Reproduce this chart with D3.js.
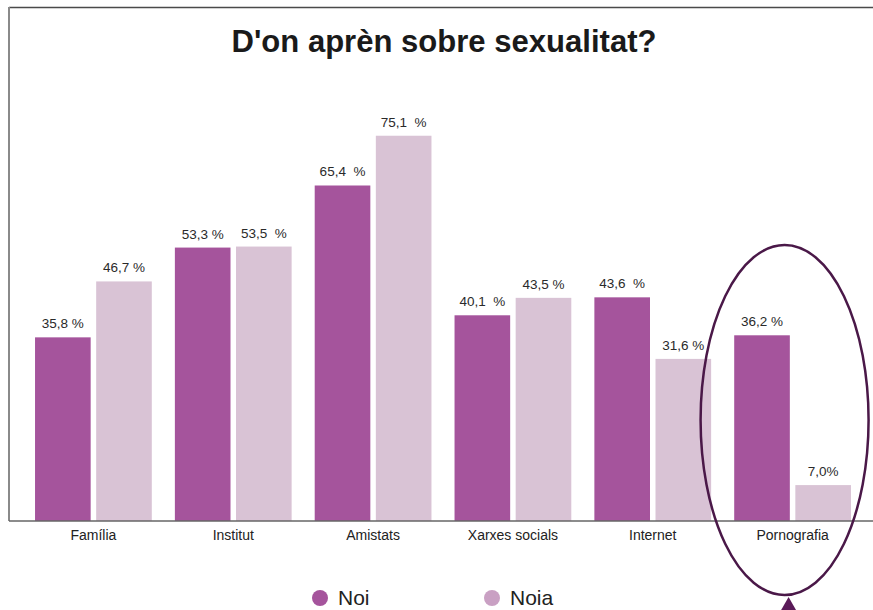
<!DOCTYPE html>
<html>
<head>
<meta charset="utf-8">
<script src="https://cdn.jsdelivr.net/npm/d3@7"></script>
<style>
  html, body { margin: 0; padding: 0; background: #fff; }
  svg { display: block; }
  text { font-family: "Liberation Sans", Arial, Helvetica, sans-serif; }
</style>
</head>
<body>
<svg id="chart" width="873" height="610"></svg>
<script>
// Sources where young people learn about sexuality, by sex (%)
const categories = ["Família", "Institut", "Amistats", "Xarxes socials", "Internet", "Pornografia"];
const series = ["Noi", "Noia"];
const noiValues  = [35.8, 53.3, 65.4, 40.1, 43.6, 36.2];
const noiaValues = [46.7, 53.5, 75.1, 43.5, 31.6, 7.0];
const valueLabels = {
  Noi:  ["35,8 %", "53,3 %", "65,4  %", "40,1  %", "43,6  %", "36,2 %"],
  Noia: ["46,7 %", "53,5  %", "75,1  %", "43,5 %", "31,6 %", "7,0%"]
};
const title = "D'on aprèn sobre sexualitat?";
const highlighted = "Pornografia";

const colors = { Noi: "#a5549c", Noia: "#d9c3d5" };
const legendColors = { Noi: "#a5549c", Noia: "#c9a0c3" };

const svg = d3.select("#chart");

const baseY = 521;
const y = d3.scaleLinear().domain([0, 100]).range([baseY, 8]);

const x0 = d3.scaleBand()
  .domain(categories)
  .range([23.5, 862.5])
  .paddingInner(0.165)
  .paddingOuter(0.0825);

const x1 = d3.scaleBand()
  .domain(series)
  .range([0, x0.bandwidth()])
  .paddingInner(0.09);

const data = categories.map((c, i) => ({
  category: c,
  values: [
    { key: "Noi", value: noiValues[i], label: valueLabels.Noi[i] },
    { key: "Noia", value: noiaValues[i], label: valueLabels.Noia[i] }
  ]
}));

// Frame: top and left rules
svg.append("line").attr("x1", 9).attr("x2", 873).attr("y1", 7.5).attr("y2", 7.5)
  .attr("stroke", "#4a4a4a").attr("stroke-width", 1.5);
svg.append("line").attr("x1", 9).attr("x2", 9).attr("y1", 7).attr("y2", baseY)
  .attr("stroke", "#8a8a8a").attr("stroke-width", 2);

// Title
svg.append("text")
  .attr("x", 444).attr("y", 52)
  .attr("text-anchor", "middle")
  .attr("font-size", 32)
  .attr("font-weight", "bold")
  .attr("fill", "#1a1a1a")
  .attr("textLength", 425)
  .attr("lengthAdjust", "spacingAndGlyphs")
  .text(title);

// Bars
const groups = svg.append("g").selectAll("g")
  .data(data).join("g")
  .attr("transform", d => `translate(${x0(d.category)},0)`);

groups.selectAll("rect")
  .data(d => d.values).join("rect")
  .attr("x", d => x1(d.key))
  .attr("y", d => y(d.value))
  .attr("width", x1.bandwidth())
  .attr("height", d => baseY - y(d.value))
  .attr("fill", d => colors[d.key]);

groups.selectAll("text.val")
  .data(d => d.values).join("text")
  .attr("class", "val")
  .attr("x", d => x1(d.key) + x1.bandwidth() / 2)
  .attr("y", d => y(d.value) - 9)
  .attr("text-anchor", "middle")
  .attr("font-size", 13.5)
  .attr("fill", "#2a2a2a")
  .style("white-space", "pre")
  .text(d => d.label);

// Category axis
const xAxis = d3.axisBottom(x0).tickSize(0).tickPadding(9);
const axisG = svg.append("g").attr("transform", `translate(0,${baseY})`).call(xAxis);
axisG.select(".domain").remove();
axisG.selectAll("text")
  .attr("font-size", 14)
  .attr("fill", "#222")
  .attr("font-family", "Liberation Sans, Arial, sans-serif");
svg.append("line").attr("x1", 9).attr("x2", 873).attr("y1", baseY).attr("y2", baseY)
  .attr("stroke", "#666").attr("stroke-width", 1.5);

// Highlight around the last category
const hx = x0(highlighted) + x0.bandwidth() / 2;
svg.append("ellipse")
  .attr("cx", hx - 8).attr("cy", 420)
  .attr("rx", 84).attr("ry", 175)
  .attr("fill", "none")
  .attr("stroke", "#4a1848")
  .attr("stroke-width", 2.5);
svg.append("path")
  .attr("d", `M${hx - 4},597 L${hx - 12},611 L${hx + 4},611 Z`)
  .attr("fill", "#5a1a58");

// Legend
const legendPos = { Noi: 320, Noia: 492 };
const legend = svg.append("g").selectAll("g")
  .data(series).join("g")
  .attr("transform", d => `translate(${legendPos[d]},598)`);
legend.append("circle").attr("r", 8).attr("fill", d => legendColors[d]);
legend.append("text")
  .attr("x", 18).attr("y", 7)
  .attr("font-size", 21)
  .attr("fill", "#222")
  .attr("font-family", "Lato, 'Open Sans', sans-serif")
  .text(d => d);
</script>
</body>
</html>
